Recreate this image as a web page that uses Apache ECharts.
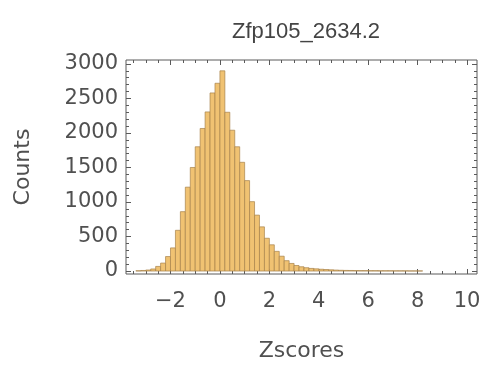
<!DOCTYPE html>
<html>
<head>
<meta charset="utf-8">
<script src="https://cdn.jsdelivr.net/npm/echarts@6/dist/echarts.min.js"></script>
<style>
  html, body { margin: 0; padding: 0; background: #fff; }
  #chart { width: 487px; height: 367px; }
</style>
</head>
<body>
<div id="chart"></div>
<script>
// histogram data
const binWidth = 0.2;
const binStarts = [
  -3.4, -3.2, -3.0, -2.8, -2.6, -2.4, -2.2, -2.0, -1.8, -1.6,
  -1.4, -1.2, -1.0, -0.8, -0.6, -0.4, -0.2, 0.0, 0.2, 0.4,
  0.6, 0.8, 1.0, 1.2, 1.4, 1.6, 1.8, 2.0, 2.2, 2.4,
  2.6, 2.8, 3.0, 3.2, 3.4, 3.6, 3.8, 4.0, 4.2, 4.4,
  4.6, 4.8, 5.0, 5.2, 5.4, 5.6, 5.8, 6.0, 6.2, 6.4,
  6.6, 6.8, 7.0, 7.2, 7.4, 7.6, 7.8, 8.0
];
const counts = [
  4, 8, 15, 30, 67, 115, 210, 335, 590, 860,
  1215, 1500, 1800, 2065, 2305, 2580, 2720, 2900, 2300, 2040,
  1800, 1575, 1310, 1005, 810, 640, 475, 380, 285, 215,
  150, 110, 80, 62, 48, 38, 32, 26, 22, 18,
  14, 11, 9, 8, 7, 6, 6, 5, 5, 4,
  4, 4, 3, 3, 3, 2, 2, 2
];
const xTicks = [-2, 0, 2, 4, 6, 8, 10];
const xMinorTicks = [-3.5, -3, -2.5, -1.5, -1, -0.5, 0.5, 1, 1.5, 2.5, 3, 3.5, 4.5, 5, 5.5, 6.5, 7, 7.5, 8.5, 9, 9.5, 10];
const yTicks = [0, 500, 1000, 1500, 2000, 2500, 3000];
const yMinorTicks = [100, 200, 300, 400, 600, 700, 800, 900, 1100, 1200, 1300, 1400,
  1600, 1700, 1800, 1900, 2100, 2200, 2300, 2400, 2600, 2700, 2800, 2900];

const FONT = 'DejaVu Sans';
const textGray = '#505050';
const frameGray = '#5a5a5a';

const data = binStarts.map((x0, i) => [x0, x0 + binWidth, counts[i]]);

const xRange = { min: -3.8, max: 10.4 };
const yRange = { min: -43, max: 3057 };

function tickAxis(pos, values, len) {
  return {
    type: 'value',
    position: pos,
    min: xRange.min,
    max: xRange.max,
    axisLine: { show: false, onZero: false },
    splitLine: { show: false },
    axisTick: {
      show: true, inside: true, length: len,
      customValues: values,
      lineStyle: { color: frameGray, width: 1 }
    },
    axisLabel: { show: false }
  };
}

function yTickAxis(pos, values, len) {
  return {
    type: 'value',
    position: pos,
    min: yRange.min,
    max: yRange.max,
    axisLine: { show: false, onZero: false },
    splitLine: { show: false },
    axisTick: {
      show: true, inside: true, length: len,
      customValues: values,
      lineStyle: { color: frameGray, width: 1 }
    },
    axisLabel: { show: false }
  };
}

const fmt = v => (v < 0 ? '\u2212' + Math.abs(v) : String(v));

const xMain = tickAxis('bottom', xTicks, 5);
xMain.axisLabel = {
  show: true, customValues: xTicks, formatter: fmt,
  color: textGray, fontFamily: FONT, fontSize: 21, margin: 17
};
xMain.name = 'Zscores';
xMain.nameLocation = 'middle';
xMain.nameGap = 66;
xMain.nameTextStyle = { color: textGray, fontFamily: FONT, fontSize: 22 };

const yMain = yTickAxis('left', yTicks, 5);
yMain.axisLabel = {
  show: true, customValues: yTicks, formatter: v => String(v),
  color: textGray, fontFamily: FONT, fontSize: 21, margin: 8
};
yMain.name = 'Counts';
yMain.nameLocation = 'middle';
yMain.nameGap = 92;
yMain.nameRotate = 90;
yMain.nameTextStyle = { color: textGray, fontFamily: FONT, fontSize: 22 };

const option = {
  animation: false,
  backgroundColor: '#fff',
  title: {
    text: 'Zfp105_2634.2',
    left: 301,
    top: 16,
    textAlign: 'center',
    textStyle: { color: '#444', fontFamily: 'Liberation Sans', fontSize: 22, fontWeight: 'normal' }
  },
  grid: {
    left: 126, right: 10, top: 60, bottom: 91,
    show: true, borderColor: frameGray, borderWidth: 1,
    backgroundColor: 'transparent'
  },
  xAxis: [
    xMain,
    tickAxis('bottom', xMinorTicks, 3),
    tickAxis('top', xTicks, 5),
    tickAxis('top', xMinorTicks, 3)
  ],
  yAxis: [
    yMain,
    yTickAxis('left', yMinorTicks, 3),
    yTickAxis('right', yTicks, 5),
    yTickAxis('right', yMinorTicks, 3)
  ],
  series: [{
    type: 'custom',
    xAxisIndex: 0,
    yAxisIndex: 0,
    clip: true,
    data: data,
    encode: { x: [0, 1], y: 2 },
    renderItem: function (params, api) {
      const p0 = api.coord([api.value(0), 0]);
      const p1 = api.coord([api.value(1), api.value(2)]);
      return {
        type: 'rect',
        shape: { x: p0[0], y: p1[1], width: p1[0] - p0[0], height: p0[1] - p1[1] },
        style: { fill: '#f0c272', stroke: '#a8834a', lineWidth: 0.7 }
      };
    }
  }]
};

const chart = echarts.init(document.getElementById('chart'));
chart.setOption(option);
</script>
</body>
</html>
